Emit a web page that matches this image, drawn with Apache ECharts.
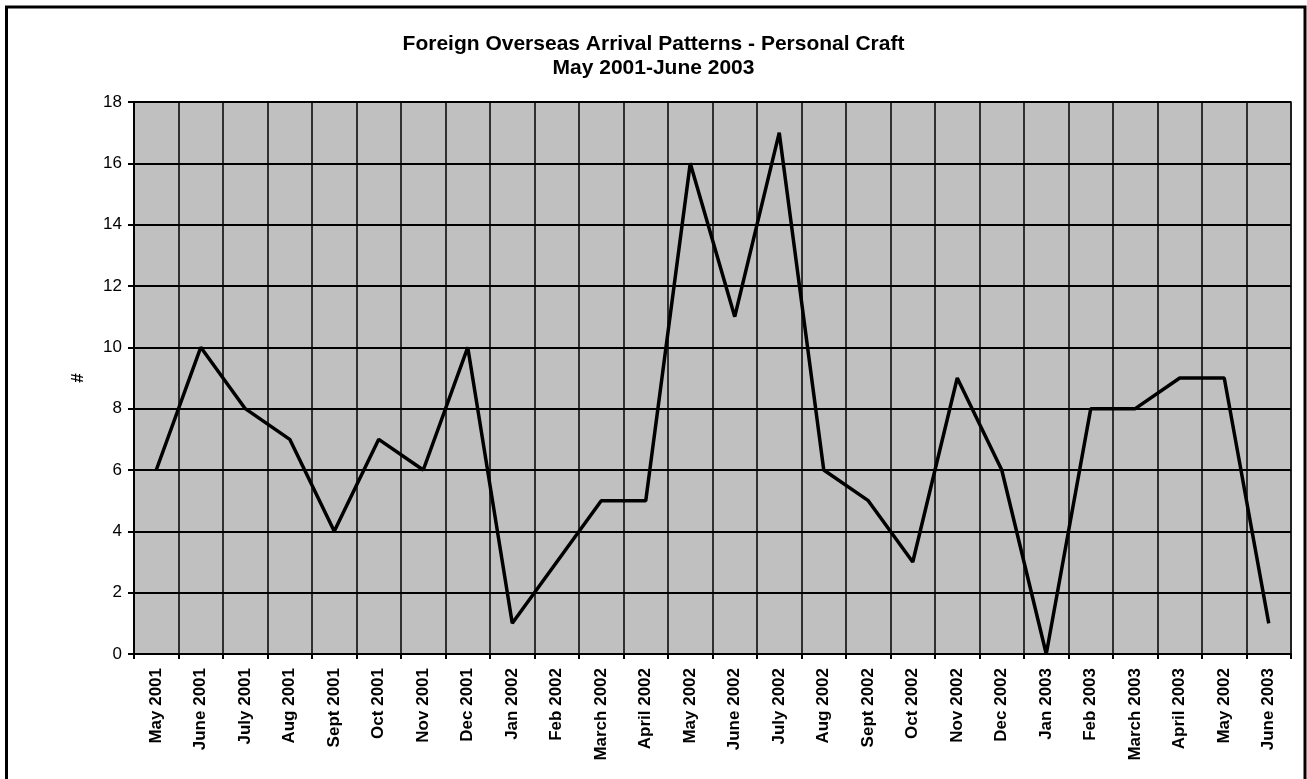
<!DOCTYPE html>
<html>
<head>
<meta charset="utf-8">
<script src="https://cdn.jsdelivr.net/npm/echarts@6/dist/echarts.min.js"></script>
<style>
  html, body { margin: 0; padding: 0; background: #fff; }
  #chart { width: 1307px; height: 779px; }
</style>
</head>
<body>
<div id="chart"></div>
<script>
var months = ['May 2001', 'June 2001', 'July 2001', 'Aug 2001', 'Sept 2001', 'Oct 2001', 'Nov 2001', 'Dec 2001',
  'Jan 2002', 'Feb 2002', 'March 2002', 'April 2002', 'May 2002', 'June 2002', 'July 2002', 'Aug 2002',
  'Sept 2002', 'Oct 2002', 'Nov 2002', 'Dec 2002', 'Jan 2003', 'Feb 2003', 'March 2003', 'April 2003',
  'May 2002', 'June 2003'];
var arrivals = [6, 10, 8, 7, 4, 7, 6, 10, 1, 3, 5, 5, 16, 11, 17, 6, 5, 3, 9, 6, 0, 8, 8, 9, 9, 1];

var font = 'Liberation Sans, Arial, sans-serif';
var myChart = echarts.init(document.getElementById('chart'));

var option = {
    backgroundColor: '#fff',
    animation: false,
    title: {
        text: 'Foreign Overseas Arrival Patterns - Personal Craft\nMay 2001-June 2003',
        left: 'center',
        top: 27,
        textStyle: {
            fontFamily: font,
            fontSize: 21,
            fontWeight: 'bold',
            color: '#000',
            lineHeight: 24
        }
    },
    graphic: [{
        type: 'rect',
        shape: { x: 6.5, y: 7, width: 1298.5, height: 800 },
        style: { fill: 'none', stroke: '#000', lineWidth: 3 },
        silent: true
    }],
    grid: {
        left: 134,
        right: 16,
        top: 102,
        bottom: 125,
        show: true,
        backgroundColor: '#C0C0C0',
        borderColor: '#808080',
        borderWidth: 2
    },
    xAxis: {
        type: 'category',
        data: months,
        boundaryGap: true,
        axisLine: { show: true, lineStyle: { color: '#000', width: 2 } },
        axisTick: { show: true, length: 5, lineStyle: { color: '#000', width: 2 } },
        splitLine: { show: true, lineStyle: { color: '#000', width: 1.5 } },
        axisLabel: {
            interval: 0,
            rotate: 90,
            margin: 14,
            fontFamily: font,
            fontSize: 17,
            fontWeight: 'bold',
            color: '#000'
        }
    },
    yAxis: {
        type: 'value',
        min: 0,
        max: 18,
        interval: 2,
        name: '#',
        nameLocation: 'middle',
        nameGap: 47,
        nameRotate: 90,
        nameTextStyle: { fontFamily: font, fontSize: 17, fontWeight: 'bold', color: '#000' },
        axisLine: { show: true, lineStyle: { color: '#000', width: 2 } },
        axisTick: { show: true, length: 6, lineStyle: { color: '#000', width: 2 } },
        splitLine: { show: true, lineStyle: { color: '#000', width: 2 } },
        axisLabel: {
            margin: 12,
            fontFamily: font,
            fontSize: 17,
            color: '#000'
        }
    },
    series: [{
        type: 'line',
        data: arrivals,
        symbol: 'none',
        lineStyle: { color: '#000', width: 3.5 },
        z: 5
    }]
};
myChart.setOption(option);
</script>
</body>
</html>
